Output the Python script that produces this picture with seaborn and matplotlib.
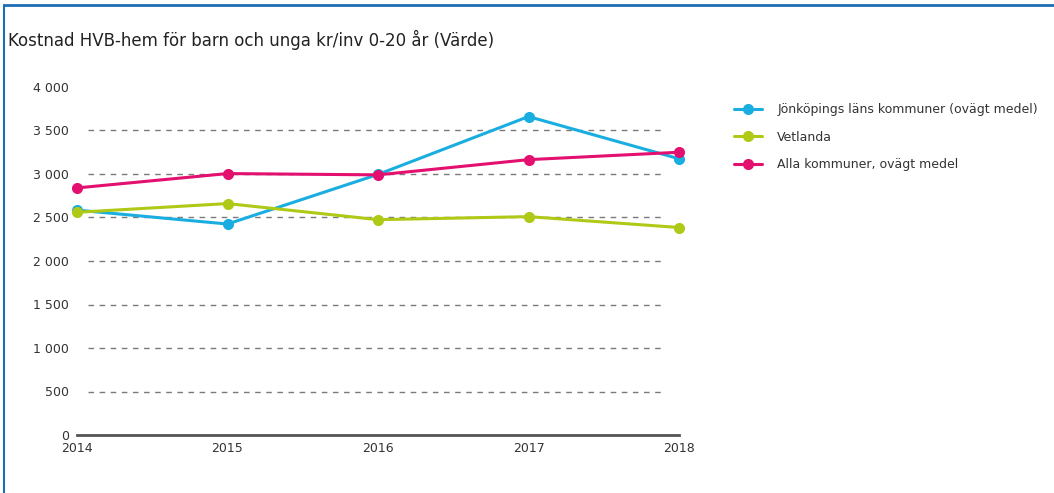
import matplotlib
matplotlib.use("Agg")
import matplotlib.pyplot as plt
from matplotlib.lines import Line2D
from matplotlib.ticker import FuncFormatter, FixedLocator
import seaborn as sns
import pandas as pd

years = [2014, 2015, 2016, 2017, 2018]
series_names = [
    "Jönköpings läns kommuner (ovägt medel)",
    "Vetlanda",
    "Alla kommuner, ovägt medel",
]
jonkoping = [2585, 2425, 2995, 3660, 3175]
vetlanda = [2560, 2660, 2475, 2510, 2385]
alla = [2840, 3005, 2990, 3165, 3250]
colors = ["#1aaee0", "#afc916", "#e3106f"]
yticks = [0, 500, 1000, 1500, 2000, 2500, 3000, 3500, 4000]
title = "Kostnad HVB-hem för barn och unga kr/inv 0-20 år (Värde)"

rows = []
for name, vals in zip(series_names, [jonkoping, vetlanda, alla]):
    for y, v in zip(years, vals):
        rows.append({"År": y, "Värde": v, "Serie": name})
df = pd.DataFrame(rows)

sns.set_style("white")
plt.rcParams["font.family"] = ["DejaVu Sans"]

fig = plt.figure(figsize=(10.54, 4.93), dpi=100)
ax = fig.add_axes([77 / 1054, 1 - 435 / 493, (679 - 77) / 1054, (435 - 87) / 493])

# gridlines
ax.hlines(yticks[1:-1], xmin=0.018, xmax=0.97, transform=ax.get_yaxis_transform(),
          colors="#7a7a7a", linestyles=(0, (4, 4)), linewidth=1, zorder=1)

sns.lineplot(data=df, x="År", y="Värde", hue="Serie", hue_order=series_names,
             palette=colors, marker="o", markersize=8, markeredgewidth=0,
             linewidth=2.2, ax=ax, zorder=3, clip_on=False)

ax.set_xlim(2014, 2018)
ax.set_ylim(0, 4000)
ax.xaxis.set_major_locator(FixedLocator(years))
ax.yaxis.set_major_locator(FixedLocator(yticks))
ax.yaxis.set_major_formatter(FuncFormatter(lambda v, p: f"{int(v):,}".replace(",", " ")))
ax.set_xlabel("")
ax.set_ylabel("")

for s in ["top", "right", "left"]:
    ax.spines[s].set_visible(False)
ax.spines["bottom"].set_color("#555555")
ax.spines["bottom"].set_linewidth(2)
ax.tick_params(axis="x", length=4, width=1, color="#555555", labelsize=9,
               labelcolor="#333333", pad=1, direction="out")
ax.tick_params(axis="y", length=0, labelsize=9, labelcolor="#333333", pad=6)

handles, labels = ax.get_legend_handles_labels()
ax.legend(handles, labels, loc="upper left", bbox_to_anchor=(723 / 1054, 1 - 92 / 493),
          bbox_transform=fig.transFigure, frameon=False, fontsize=9,
          handlelength=2.25, handletextpad=1.2, labelspacing=1.15, labelcolor="#333333")

fig.text(8 / 1054, 1 - 40 / 493, title, fontsize=12, color="#222222", va="center", ha="left")

# card border (left & top)
fig.add_artist(Line2D([4 / 1054, 1], [1 - 5 / 493, 1 - 5 / 493], transform=fig.transFigure,
                      color="#1f6db5", linewidth=2))
fig.add_artist(Line2D([4 / 1054, 4 / 1054], [0, 1 - 5 / 493], transform=fig.transFigure,
                      color="#1f6db5", linewidth=1.5))

fig.savefig("out.png", dpi=100, facecolor="white")
